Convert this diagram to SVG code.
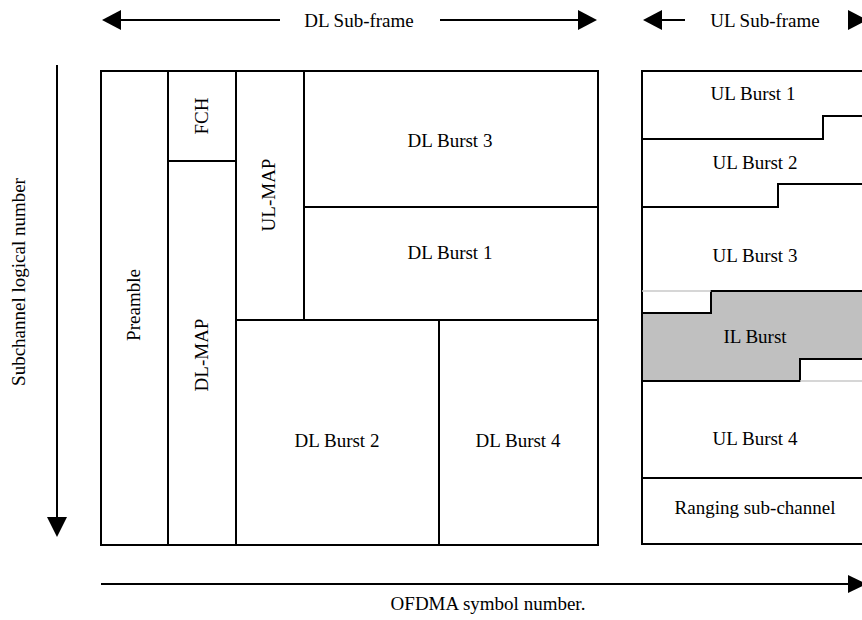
<svg xmlns="http://www.w3.org/2000/svg" width="862" height="620" viewBox="0 0 862 620">
<style>
.t{font-family:"Liberation Serif","Times New Roman",serif;font-size:19px;fill:#000;text-anchor:middle}
.b{fill:#fff;stroke:#000;stroke-width:2}
.l{fill:none;stroke:#000;stroke-width:2}
.g{fill:none;stroke:#c8c8c8;stroke-width:1.5}
.h{fill:#000;stroke:none}
</style>
<rect width="862" height="620" fill="#fff"/>
<g id="connectors">
<line class="l" x1="118" y1="20" x2="280" y2="20"/>
<polygon class="h" points="102,20 121,10 121,30"/>
<line class="l" x1="440" y1="20" x2="580" y2="20"/>
<polygon class="h" points="597,20 578,10 578,30"/>
<line class="l" x1="658" y1="20" x2="685" y2="20"/>
<polygon class="h" points="643,20 662,10 662,30"/>
<polygon class="h" points="867,20 848,10 848,30"/>
<line class="l" x1="57" y1="65" x2="57" y2="520"/>
<polygon class="h" points="57,537 47,517 67,517"/>
<line class="l" x1="101" y1="584" x2="852" y2="584"/>
<polygon class="h" points="867,584 848,575 848,593"/>
</g>
<g id="labels">
<text class="t" x="359" y="27">DL Sub-frame</text>
<text class="t" x="765" y="27">UL Sub-frame</text>
<text class="t" transform="translate(25,282) rotate(-90)">Subchannel logical number</text>
<text class="t" x="488" y="610">OFDMA symbol number.</text>
</g>
<g id="preamble">
<rect class="b" x="101" y="71" width="67" height="474"/>
<text class="t" transform="translate(140,305) rotate(-90)">Preamble</text>
</g>
<g id="fch">
<rect class="b" x="168" y="71" width="68" height="90"/>
<text class="t" transform="translate(208,116) rotate(-90)">FCH</text>
</g>
<g id="dl-map">
<rect class="b" x="168" y="161" width="68" height="384"/>
<text class="t" transform="translate(208,355) rotate(-90)">DL-MAP</text>
</g>
<g id="ul-map">
<rect class="b" x="236" y="71" width="68" height="249"/>
<text class="t" transform="translate(275,195) rotate(-90)">UL-MAP</text>
</g>
<g id="dl-burst-3">
<rect class="b" x="304" y="71" width="294" height="136"/>
<text class="t" x="450" y="147">DL Burst 3</text>
</g>
<g id="dl-burst-1">
<rect class="b" x="304" y="207" width="294" height="113"/>
<text class="t" x="450" y="259">DL Burst 1</text>
</g>
<g id="dl-burst-2">
<rect class="b" x="236" y="320" width="203" height="225"/>
<text class="t" x="337" y="447">DL Burst 2</text>
</g>
<g id="dl-burst-4">
<rect class="b" x="439" y="320" width="159" height="225"/>
<text class="t" x="518" y="447">DL Burst 4</text>
</g>
<g id="ul-frame">
<rect class="b" x="642" y="71" width="260" height="473"/>
</g>
<g id="ul-burst-1">
<polyline class="l" points="642,139 823,139 823,116 870,116"/>
<text class="t" x="753" y="100">UL Burst 1</text>
</g>
<g id="ul-burst-2">
<polyline class="l" points="642,207 778,207 778,184 870,184"/>
<text class="t" x="755" y="169">UL Burst 2</text>
</g>
<g id="ul-burst-3">
<text class="t" x="755" y="262">UL Burst 3</text>
</g>
<g id="il-burst">
<polygon points="711,291 870,291 870,359 800,359 800,381 642,381 642,313 711,313" fill="#c0c0c0" stroke="#000" stroke-width="2"/>
<line class="g" x1="642" y1="291" x2="711" y2="291"/>
<line class="g" x1="800" y1="381" x2="862" y2="381"/>
<text class="t" x="755" y="343">IL Burst</text>
</g>
<g id="ul-burst-4">
<line class="l" x1="642" y1="478" x2="870" y2="478"/>
<text class="t" x="755" y="445">UL Burst 4</text>
</g>
<g id="ranging">
<text class="t" x="755" y="514">Ranging sub-channel</text>
</g>
</svg>
